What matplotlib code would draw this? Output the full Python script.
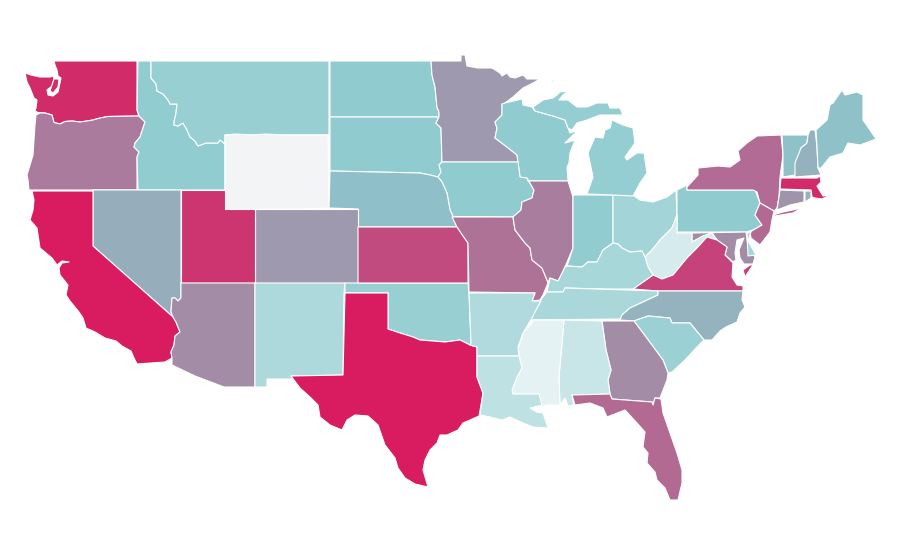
import matplotlib
matplotlib.use('Agg')
import matplotlib.pyplot as plt
from matplotlib.colors import LinearSegmentedColormap, Normalize
from matplotlib.patches import Polygon

# Estimated value per state, read from the fill colours
values = {
    'WY': 0, 'MS': 4.5, 'WV': 9, 'AL': 13, 'LA': 16, 'AR': 20, 'NM': 21, 'TN': 22, 'KY': 22.5,
    'DE': 23, 'OH': 24, 'SC': 26.5, 'MT': 27, 'OK': 27, 'MI': 28, 'IN': 29, 'ID': 29, 'PA': 30,
    'WI': 30, 'ND': 30, 'SD': 30, 'IA': 30, 'VT': 34, 'ME': 34, 'NE': 35, 'NC': 40, 'NH': 41,
    'RI': 41, 'NV': 42, 'CO': 50, 'MN': 50, 'CT': 52, 'GA': 55, 'AZ': 55, 'MD': 55, 'IL': 61,
    'OR': 62, 'MO': 66, 'NY': 68.5, 'NJ': 69, 'FL': 69, 'KS': 81, 'VA': 84, 'UT': 90, 'WA': 94,
    'MA': 94, 'CA': 100, 'TX': 100,
}

# State outlines in map units
outlines = {
    'WA': [[(54, 61), (137, 61), (137, 110), (139, 116), (108, 116.5), (100, 118), (93, 120), (87, 121), (80, 122), (72, 121), (65, 121.5), (60, 124), (54, 122.5), (52, 115), (45, 113), (38, 112.5), (35, 111), (36, 108), (37, 100), (34, 98), (30, 88), (27, 82), (25, 73), (31, 75), (40, 77), (50, 77), (53, 76), (54, 79), (52, 86), (47, 90), (48, 95), (53, 96), (58, 92), (60, 83), (61, 78), (58, 76), (57, 70), (55, 65)],
           [(54, 79), (59, 79), (58, 87), (53, 93), (50, 91)]],
    'OR': [[(36, 115), (40, 113), (45, 113), (52, 115), (54, 122.5), (60, 124), (65, 121.5), (72, 121), (80, 122), (87, 121), (93, 120), (100, 118), (108, 116.5), (139, 116), (145, 122), (143, 128), (140, 137), (135, 143), (134, 147), (139, 152), (137, 157), (137, 190), (29, 190), (28, 180), (27, 175), (30, 165), (33, 155), (34, 140), (35, 125)]],
    'ID': [[(138, 61), (151, 61), (151, 78), (156, 84), (157, 91), (163, 94), (168, 100), (170, 104), (177, 104), (176, 113), (174, 122), (174, 125), (178, 126), (183, 123), (187, 130), (190, 137), (195, 141), (198, 146), (206, 143), (218, 143), (220, 140), (225, 144), (225, 190), (138, 190), (137, 157), (139, 152), (134, 147), (135, 143), (140, 137), (143, 128), (145, 122), (139, 116), (137, 110)]],
    'MT': [[(151, 61), (329, 61), (329, 135), (225, 135), (225, 144), (220, 140), (218, 143), (206, 143), (198, 146), (195, 141), (190, 137), (187, 130), (183, 123), (178, 126), (174, 125), (174, 122), (176, 113), (177, 104), (170, 104), (168, 100), (163, 94), (157, 91), (156, 84), (151, 78)]],
    'WY': [[(225, 135), (235, 134), (253, 135), (265, 134), (285, 135), (328, 135), (329, 208), (310, 209), (225, 209.5)]],
    'ND': [[(330, 61), (431, 61), (432, 75), (435, 87), (437, 107), (439, 112), (439, 117), (330, 117)]],
    'SD': [[(330, 117), (439, 117), (436, 123), (441, 128), (442, 162), (439, 165), (441, 172), (438, 177), (430, 175), (420, 173), (330, 171)]],
    'MN': [[(431, 61), (461, 61), (461, 55), (465, 55), (467, 66), (478, 68), (492, 68), (500, 73), (502, 76), (507, 73), (510, 77), (515, 78), (523, 75), (527, 79), (540, 79), (533, 83), (523, 88), (513, 97), (505, 103), (502, 104), (502, 115), (495, 122), (497, 128), (495, 138), (507, 147), (517, 155), (518, 162), (442, 162), (441, 128), (436, 123), (439, 117), (439, 112), (437, 107), (435, 87), (432, 75)]],
    'WI': [[(502, 104), (505, 103), (522, 99), (523, 105), (532, 107), (535, 111), (553, 116), (565, 120), (568, 128), (570, 133), (578, 130), (565, 143), (575, 140), (570, 153), (569, 163), (567, 167), (568, 181), (528, 181), (520, 177), (518, 162), (517, 155), (507, 147), (495, 138), (497, 128), (495, 122), (502, 115)]],
    'IA': [[(442, 162), (518, 162), (520, 177), (527, 178), (534, 190), (532, 198), (522, 202), (521, 210), (513, 217), (453, 216.5), (450, 210), (447, 193), (442, 182), (438, 177), (441, 172), (439, 165)]],
    'NE': [[(330, 171), (420, 173), (430, 175), (438, 177), (442, 182), (447, 193), (450, 210), (453, 216.5), (457, 227), (358, 227), (358, 209), (329, 208)]],
    'CO': [[(255, 209), (358, 209), (358, 283), (255, 283)]],
    'UT': [[(181, 190), (225, 190), (225, 209), (255, 209), (255, 283), (181, 283)]],
    'NV': [[(93, 190), (181, 190), (181, 298), (178, 301), (175, 298), (172, 298), (171, 312), (173, 317), (93, 246)]],
    'CA': [[(32, 191), (93, 191), (93, 246), (173, 317), (176, 322), (180, 332), (175, 336), (174, 345), (171, 352), (172, 358), (165, 362), (137, 364), (134, 358), (131, 351), (122, 346), (116, 341), (105, 338), (95, 332), (86, 328), (83, 318), (79, 312), (70, 301), (66, 295), (68, 285), (60, 275), (59, 268), (62, 263), (69, 262), (62, 261), (57, 265), (52, 258), (40, 248), (38, 235), (37, 228), (30, 220), (33, 210), (34, 200)]],
    'AZ': [[(181, 283), (255, 283), (255, 387), (224, 387), (195, 376), (172, 365), (172, 358), (171, 352), (174, 345), (175, 336), (180, 332), (176, 322), (173, 317), (171, 312), (172, 298), (175, 298), (178, 301), (181, 298)]],
    'NM': [[(255, 283), (345, 283), (344, 293), (343, 375), (291, 376), (294, 379), (267, 379), (267, 387), (255, 387)]],
    'OK': [[(345, 283), (468, 283), (469, 293), (471, 343), (470, 345), (460, 340), (445, 342), (433, 341), (420, 340), (413, 337), (400, 333), (388, 329), (388, 293), (345, 293)]],
    'TX': [[(345, 293), (388, 293), (388, 329), (400, 333), (413, 337), (420, 340), (433, 341), (445, 342), (460, 340), (470, 345), (477, 347), (477, 377), (483, 393), (481, 405), (479, 416), (470, 420), (463, 423), (458, 430), (447, 435), (440, 435), (437, 443), (430, 450), (425, 460), (423, 470), (428, 487), (415, 484), (405, 478), (398, 468), (395, 458), (385, 445), (378, 425), (368, 416), (355, 415), (347, 420), (342, 430), (330, 425), (320, 417), (318, 405), (310, 397), (300, 388), (291, 376), (343, 375)]],
    'KS': [[(358, 227), (457, 227), (461, 233), (468, 243), (468, 283), (358, 283)]],
    'MO': [[(452, 217), (513, 217), (515, 230), (525, 243), (530, 248), (532, 260), (542, 268), (547, 280), (548, 283), (543, 295), (540, 300), (532, 301), (535, 293), (469, 292), (468, 243), (461, 233), (457, 227)]],
    'IL': [[(528, 181), (568, 181), (573, 197), (573, 248), (565, 267), (560, 278), (558, 281), (550, 278), (548, 283), (547, 280), (542, 268), (532, 260), (530, 248), (525, 243), (515, 230), (513, 217), (521, 210), (522, 202), (532, 198), (534, 190), (527, 178)]],
    'IN': [[(573, 195), (613, 195), (613, 243), (603, 250), (597, 262), (588, 262), (582, 267), (567, 266), (573, 248)]],
    'OH': [[(613, 195), (633, 195), (640, 200), (653, 202), (667, 197), (676, 190), (677, 215), (672, 228), (660, 240), (652, 250), (645, 257), (642, 251), (630, 252), (622, 248), (618, 244), (613, 243)]],
    'PA': [[(677, 190), (687, 185), (687, 190), (755, 190), (760, 203), (755, 215), (762, 225), (753, 230), (746, 232), (677, 232)]],
    'MI': [[(587, 194), (613, 195), (633, 196), (640, 183), (647, 173), (644, 153), (637, 153), (627, 160), (625, 157), (635, 143), (633, 128), (623, 125), (612, 120), (610, 128), (605, 130), (603, 138), (595, 137), (588, 153), (593, 177)],
           [(533, 107), (543, 100), (553, 98), (557, 95), (560, 92), (568, 91), (563, 95), (559, 100), (568, 100), (577, 107), (587, 107), (597, 103), (608, 103), (610, 108), (620, 108), (623, 115), (610, 115), (600, 115), (587, 120), (577, 123), (572, 130), (568, 128), (565, 120), (553, 116), (535, 111)],
           [(549, 81), (556, 78), (553, 81)]],
    'NY': [[(687, 190), (687, 187), (698, 175), (698, 168), (718, 166), (730, 167), (740, 160), (738, 151), (747, 143), (757, 136), (781, 135), (783, 155), (780, 177), (779, 197), (777, 208), (774, 211), (760, 203), (757, 192), (753, 190)],
           [(773, 215), (783, 212), (802, 208), (793, 213), (775, 216)]],
    'NJ': [[(760, 203), (774, 211), (772, 220), (770, 232), (760, 245), (751, 238), (750, 232), (762, 225), (755, 215)]],
    'VT': [[(782, 135), (808, 135), (807, 143), (801, 148), (795, 175), (783, 177), (783, 155)]],
    'NH': [[(810, 130), (815, 130), (817, 147), (818, 168), (821, 175), (795, 177), (795, 163), (801, 148), (807, 143), (808, 135)]],
    'ME': [[(816, 130), (827, 120), (830, 105), (833, 103), (842, 90), (845, 95), (857, 92), (863, 95), (863, 120), (870, 130), (876, 139), (860, 145), (848, 143), (843, 153), (830, 157), (821, 168), (818, 168), (817, 147)]],
    'MA': [[(781, 178), (817, 178), (820, 176), (821, 182), (817, 186), (823, 196), (830, 195), (822, 199), (815, 198), (812, 197), (811, 190), (780, 189)]],
    'CT': [[(780, 190), (804, 191), (804, 202), (790, 205), (777, 210), (779, 197)]],
    'RI': [[(805, 191), (811, 191), (811, 198), (805, 202)]],
    'MD': [[(692, 233), (746, 232), (748, 247), (755, 257), (753, 264), (744, 264), (740, 258), (739, 250), (744, 238), (737, 240), (735, 253), (736, 260), (733, 262), (725, 255), (727, 247), (717, 240), (712, 233), (703, 236), (692, 242)]],
    'DE': [[(747, 233), (751, 232), (748, 241), (756, 255), (748, 256)]],
    'WV': [[(677, 215), (677, 233), (692, 233), (692, 242), (703, 236), (712, 233), (717, 240), (707, 237), (697, 248), (687, 258), (673, 275), (662, 279), (653, 275), (648, 267), (645, 257), (652, 250), (660, 240), (672, 228)]],
    'VA': [[(633, 289), (653, 275), (662, 279), (673, 275), (687, 258), (697, 248), (707, 237), (717, 240), (727, 247), (725, 255), (733, 263), (732, 277), (737, 285), (743, 286), (743, 291), (658, 291)],
           [(750, 265), (753, 265), (745, 277), (743, 270)]],
    'KY': [[(567, 266), (582, 267), (588, 262), (597, 262), (603, 250), (613, 243), (618, 244), (622, 248), (630, 252), (642, 251), (645, 257), (648, 267), (653, 275), (633, 289), (605, 289), (565, 288), (563, 292), (547, 292), (550, 278), (558, 281), (565, 267)]],
    'TN': [[(547, 292), (563, 292), (565, 288), (658, 291), (658, 295), (643, 302), (630, 308), (622, 315), (621, 319), (527, 320), (532, 313), (537, 308), (542, 298)]],
    'NC': [[(658, 291), (743, 291), (742, 300), (745, 307), (740, 313), (737, 322), (726, 327), (720, 331), (712, 340), (704, 340), (690, 323), (672, 323), (670, 318), (648, 316), (634, 321), (620, 320), (622, 315), (630, 308), (643, 302), (658, 295)]],
    'SC': [[(634, 321), (648, 316), (670, 318), (672, 323), (690, 323), (704, 340), (697, 347), (685, 360), (672, 372), (668, 373), (663, 360), (643, 333)]],
    'GA': [[(602, 321), (634, 321), (643, 333), (663, 360), (668, 373), (667, 380), (660, 398), (655, 398), (653, 405), (652, 402), (612, 399), (610, 394), (608, 380), (611, 370), (606, 350)]],
    'AL': [[(564, 320), (602, 321), (606, 350), (611, 370), (608, 380), (610, 394), (572, 395), (574, 405), (568, 406), (565, 398), (560, 405), (559, 377), (562, 343)]],
    'MS': [[(533, 320), (564, 320), (562, 343), (559, 377), (560, 405), (547, 405), (540, 407), (539, 394), (513, 394), (512, 390), (517, 377), (522, 368), (518, 350), (523, 333), (532, 323)]],
    'AR': [[(469, 293), (535, 293), (532, 301), (541, 301), (537, 308), (532, 318), (523, 333), (518, 347), (519, 356), (477, 356), (477, 347), (470, 345), (471, 343)]],
    'LA': [[(477, 356), (519, 356), (522, 368), (517, 377), (512, 390), (513, 394), (539, 394), (542, 405), (530, 408), (537, 412), (543, 413), (548, 428), (533, 427), (523, 423), (510, 417), (502, 420), (490, 417), (480, 415), (483, 393), (477, 377)]],
    'FL': [[(572, 395), (610, 394), (612, 399), (652, 402), (653, 405), (655, 398), (661, 399), (663, 413), (670, 433), (677, 453), (682, 470), (682, 483), (678, 500), (670, 500), (665, 488), (657, 480), (655, 472), (647, 463), (648, 453), (643, 447), (645, 432), (637, 423), (625, 410), (607, 417), (603, 408), (590, 403), (575, 405)]],
}

# Colour scale fitted to the picked fills
color_stops = [(0, '#f3f4f6'), (0.045, '#e4f2f3'), (0.3, '#8ecbcf'), (0.35, '#8fbfc8'),
               (0.5, '#9e9aae'), (0.55, '#a28ca6'), (0.69, '#b26a93'), (1, '#d91c60')]
cmap = LinearSegmentedColormap.from_list('states', color_stops)
norm = Normalize(0, 100)

fig = plt.figure(figsize=(9, 5.6), dpi=100)
ax = fig.add_axes([0, 0, 1, 1])

for state, parts in outlines.items():
    for part in parts:
        ax.add_patch(Polygon(part, closed=True, facecolor=cmap(norm(values[state])),
                             edgecolor='white', linewidth=0.8, joinstyle='round'))

ax.set_xlim(0, 900)
ax.set_ylim(560, 0)
ax.axis('off')

fig.savefig('out.png', dpi=100, facecolor='white')
